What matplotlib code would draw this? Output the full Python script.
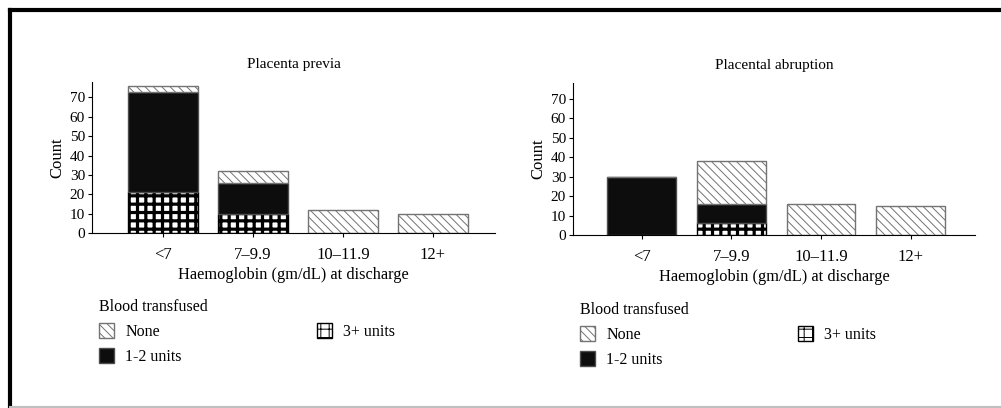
import matplotlib
matplotlib.use("Agg")
import matplotlib.pyplot as plt
import numpy as np
from matplotlib.patches import Patch
from matplotlib.lines import Line2D

# data
categories = ["<7", "7\u20139.9", "10\u201311.9", "12+"]
previa_3plus = [21, 10, 0, 0]
previa_12 = [52, 16, 0, 0]
previa_none = [3, 6, 12, 10]
abruption_3plus = [0, 6, 0, 0]
abruption_12 = [30, 10, 0, 0]
abruption_none = [0, 22, 16, 15]

plt.rcParams["font.family"] = ["Liberation Serif", "DejaVu Serif"]
plt.rcParams["hatch.linewidth"] = 0.7

fig = plt.figure(figsize=(10.01, 4.08), dpi=100)

# styles of the three groups
none_style = dict(facecolor="white", edgecolor="0.45", hatch="\\\\\\\\", linewidth=1.0)
mid_style = dict(facecolor="#0d0d0d", edgecolor="0.3", linewidth=1.0)
high_style = dict(facecolor="white", edgecolor="black", hatch="++", linewidth=1.0)


def draw_panel(rect, title, v3, v12, vnone, xlim):
    ax = fig.add_axes(rect)
    x = np.arange(len(categories))
    w = 0.77
    v3 = np.array(v3)
    v12 = np.array(v12)
    vnone = np.array(vnone)
    with plt.rc_context({"hatch.linewidth": 2.3, "hatch.color": "black"}):
        ax.bar(x, v3, w, **high_style)
    ax.bar(x, v12, w, bottom=v3, **mid_style)
    with plt.rc_context({"hatch.color": "0.45"}):
        ax.bar(x, vnone, w, bottom=v3 + v12, **none_style)
    ax.set_xlim(*xlim)
    ax.set_ylim(0, 78)
    ax.set_yticks(range(0, 71, 10))
    ax.set_xticks(x)
    ax.set_xticklabels(categories)
    ax.spines["top"].set_visible(False)
    ax.spines["right"].set_visible(False)
    ax.tick_params(axis="y", labelsize=11, length=3, pad=2)
    ax.tick_params(axis="x", labelsize=12, length=3, pad=7)
    ax.set_ylabel("Count", fontsize=12, labelpad=3)
    ax.set_xlabel("Haemoglobin (gm/dL) at discharge", fontsize=11.8, labelpad=3)
    ax.set_title(title, fontsize=11, pad=10)

    with plt.rc_context({"hatch.linewidth": 1.6, "hatch.color": "black"}):
        h3 = Patch(label="3+ units", **high_style)
    with plt.rc_context({"hatch.color": "0.45"}):
        hn = Patch(label="None", **none_style)
    h12 = Patch(label="1-2 units", **mid_style)
    ax.legend(handles=[hn, h12, h3], ncol=2, title="Blood transfused",
              loc="upper left", bbox_to_anchor=(0.017, -0.44),
              frameon=False, fontsize=11.5, title_fontsize=11.5,
              alignment="left", handlelength=0.95, handleheight=1.05,
              handletextpad=0.7, columnspacing=8.45, borderaxespad=0,
              borderpad=0, labelspacing=0.5)
    return ax


draw_panel([0.0919, 0.429, 0.4026, 0.370], "Placenta previa",
           previa_3plus, previa_12, previa_none, (-0.79, 3.69))
draw_panel([0.5724, 0.424, 0.4016, 0.3725], "Placental abruption",
           abruption_3plus, abruption_12, abruption_none, (-0.77, 3.72))

# outer frame of the original figure
fig.add_artist(Line2D([0.0095, 0.0095], [0.0, 0.975], color="black", lw=3,
                      transform=fig.transFigure))
fig.add_artist(Line2D([0.0095, 1.0], [0.975, 0.975], color="black", lw=3,
                      transform=fig.transFigure))
fig.add_artist(Line2D([0.0095, 1.0], [0.002, 0.002], color="0.75", lw=1.5,
                      transform=fig.transFigure))

fig.savefig("out.png", dpi=100)
